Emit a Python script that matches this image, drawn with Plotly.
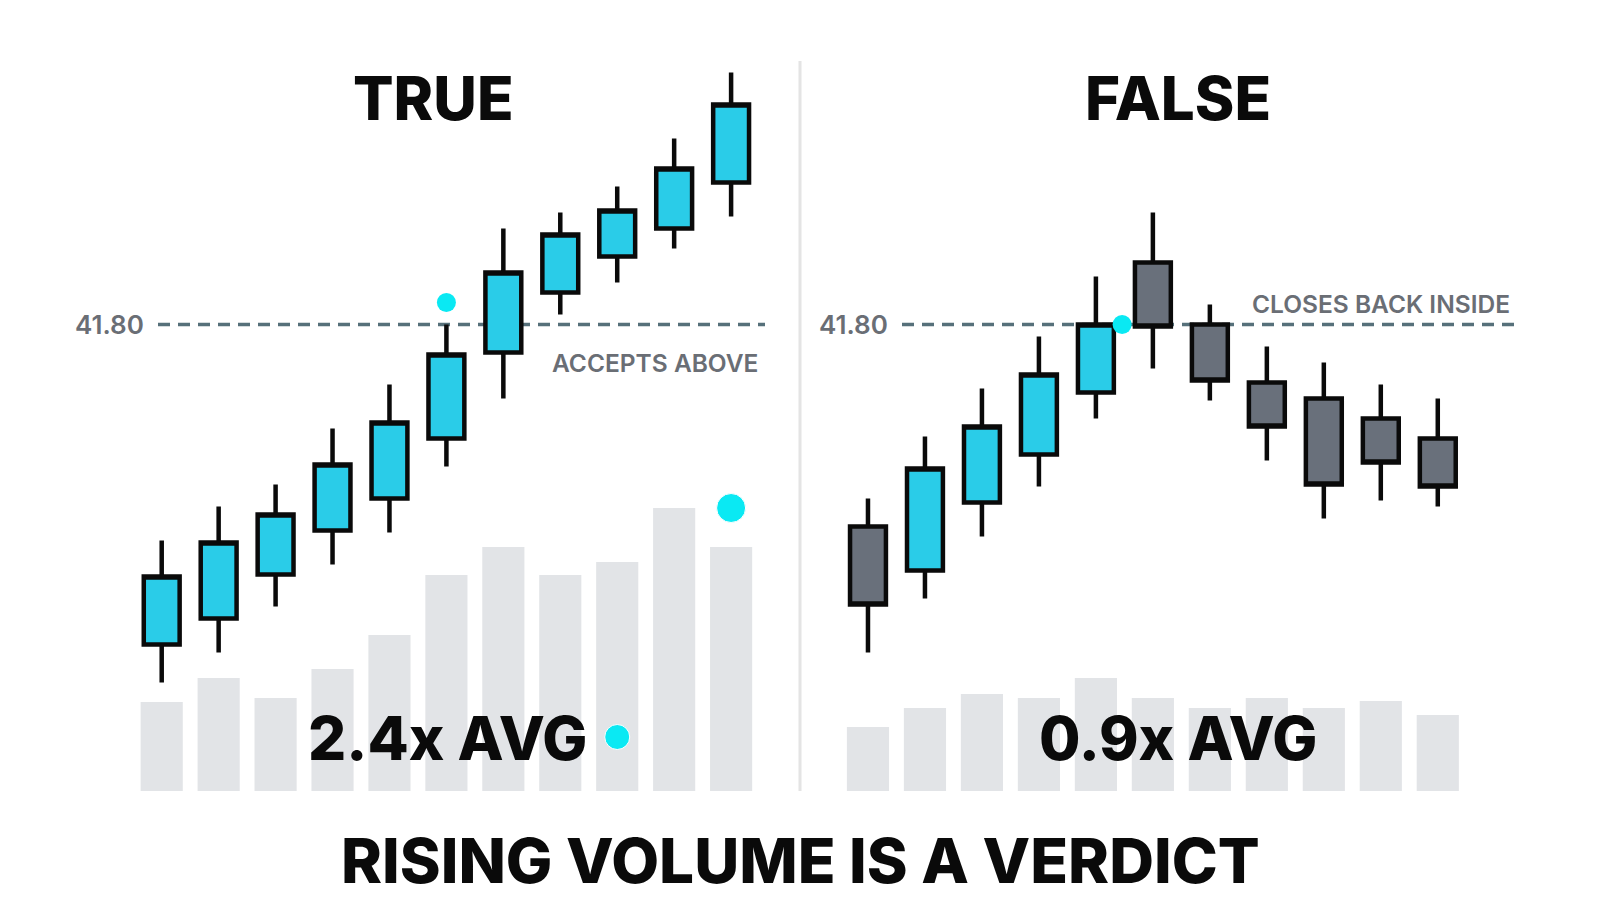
import plotly.graph_objects as go

# ---------------- data ----------------
candle_index = list(range(11))
true_open = [40.20, 40.33, 40.55, 40.77, 40.93, 41.23, 41.66, 41.96, 42.14, 42.28, 42.51]
true_high = [40.72, 40.89, 41.00, 41.28, 41.50, 41.80, 42.28, 42.36, 42.49, 42.73, 43.06]
true_low = [40.01, 40.16, 40.39, 40.60, 40.76, 41.09, 41.43, 41.85, 42.01, 42.18, 42.34]
true_close = [40.54, 40.71, 40.85, 41.10, 41.31, 41.65, 42.06, 42.25, 42.37, 42.58, 42.90]
true_volume = [0.89, 1.13, 0.93, 1.22, 1.56, 2.16, 2.44, 2.16, 2.29, 2.83, 2.44]

false_open = [40.79, 40.57, 40.91, 41.15, 41.46, 42.11, 41.80, 41.51, 41.43, 41.33, 41.23]
false_high = [40.93, 41.24, 41.48, 41.74, 42.04, 42.36, 41.90, 41.69, 41.61, 41.50, 41.43]
false_low = [40.16, 40.43, 40.74, 40.99, 41.33, 41.58, 41.42, 41.12, 40.83, 40.92, 40.89]
false_close = [40.40, 41.08, 41.29, 41.55, 41.80, 41.79, 41.52, 41.29, 41.00, 41.11, 40.99]
false_volume = [0.64, 0.83, 0.97, 0.93, 1.13, 0.93, 0.83, 0.93, 0.83, 0.90, 0.76]

level = 41.80
level_label = "41.80"
titles = ["TRUE", "FALSE"]
volume_labels = ["2.4x AVG", "0.9x AVG"]
notes = ["ACCEPTS ABOVE", "CLOSES BACK INSIDE"]
headline = "RISING VOLUME IS A VERDICT"

# highlight dots (x index, value)
true_break_dot = (5, 41.91)
true_peak_vol_dot = (10, 2.83)
true_label_dot = (8, 0.54)
false_break_dot = (4.46, 41.80)

# ---------------- style ----------------
CYAN = "#2accE8"
GRAY = "#69707b"
DOT = "#0ae9f3"
VOL = "#e2e4e7"
LINE = "#56707a"
TEXT_GRAY = "#6a6e75"
FONT = "Inter"

fig = go.Figure()

# volume bars (base axes)
fig.add_trace(go.Bar(x=candle_index, y=true_volume, width=0.74, marker=dict(color=VOL, line=dict(width=0)),
                     xaxis="x", yaxis="y", hoverinfo="skip"))
fig.add_trace(go.Bar(x=candle_index, y=false_volume, width=0.74, marker=dict(color=VOL, line=dict(width=0)),
                     xaxis="x2", yaxis="y3", hoverinfo="skip"))

# candles (overlay price axes)
def candle(o, h, l, c, xa, ya):
    return go.Candlestick(
        x=candle_index, open=o, high=h, low=l, close=c, xaxis=xa, yaxis=ya,
        increasing=dict(fillcolor=CYAN, line=dict(color="#0a0a0a", width=4.5)),
        decreasing=dict(fillcolor=GRAY, line=dict(color="#0a0a0a", width=4.5)),
        whiskerwidth=0, hoverinfo="skip")

fig.add_trace(candle(true_open, true_high, true_low, true_close, "x", "y2"))
fig.add_trace(candle(false_open, false_high, false_low, false_close, "x2", "y4"))

# dots
fig.add_trace(go.Scatter(x=[true_break_dot[0]], y=[true_break_dot[1]], mode="markers",
                         marker=dict(color=DOT, size=19, opacity=1), xaxis="x", yaxis="y2", hoverinfo="skip"))
fig.add_trace(go.Scatter(x=[false_break_dot[0]], y=[false_break_dot[1]], mode="markers",
                         marker=dict(color=DOT, size=19, opacity=1), xaxis="x2", yaxis="y4", hoverinfo="skip"))
fig.add_trace(go.Scatter(x=[true_peak_vol_dot[0], true_label_dot[0]], y=[true_peak_vol_dot[1], true_label_dot[1]],
                         mode="markers", marker=dict(color=DOT, size=[29, 25], opacity=1), xaxis="x", yaxis="y",
                         hoverinfo="skip"))

price_range = [38.8525, 43.4225]
vol_range = [-1.23, 7.91]
hidden = dict(visible=False, showgrid=False, zeroline=False, fixedrange=True)

fig.update_layout(
    width=1600, height=914,
    margin=dict(l=0, r=0, t=0, b=0),
    paper_bgcolor="white", plot_bgcolor="rgba(0,0,0,0)",
    showlegend=False, barmode="overlay", boxgap=0.37, boxgroupgap=0,
    xaxis=dict(domain=[0, 0.5], range=[-2.84, 11.21], rangeslider=dict(visible=False), **hidden),
    xaxis2=dict(domain=[0.5, 1], range=[-1.193, 12.847], rangeslider=dict(visible=False), anchor="y3", **hidden),
    yaxis=dict(domain=[0, 1], range=vol_range, anchor="x", **hidden),
    yaxis2=dict(domain=[0, 1], range=price_range, anchor="x", overlaying="y", **hidden),
    yaxis3=dict(domain=[0, 1], range=vol_range, anchor="x2", **hidden),
    yaxis4=dict(domain=[0, 1], range=price_range, anchor="x2", overlaying="y3", **hidden),
)

# divider and level lines
fig.add_shape(type="line", xref="paper", yref="paper", x0=0.5, x1=0.5, y0=1 - 61 / 914, y1=1 - 791 / 914,
              line=dict(color="#e4e4e4", width=3))
fig.add_shape(type="line", xref="paper", yref="y2", x0=158 / 1600, x1=765 / 1600, y0=level, y1=level,
              line=dict(color=LINE, width=3.5, dash="12px,8px"), layer="below")
fig.add_shape(type="line", xref="paper", yref="y4", x0=902 / 1600, x1=1522 / 1600, y0=level, y1=level,
              line=dict(color=LINE, width=3.5, dash="12px,8px"), layer="below")

def ann(text, x, y, size, weight, color="#0a0a0a", xanchor="center"):
    fig.add_annotation(text=text, x=x / 1600, y=1 - y / 914, xref="paper", yref="paper",
                       xanchor=xanchor, yanchor="middle", showarrow=False,
                       font=dict(family=FONT, size=size, color=color, weight=weight))

ann(titles[0], 433, 98, 60, 800)
ann(titles[1], 1178, 98, 60, 800)
ann(volume_labels[0], 447, 738, 60, 800)
ann(volume_labels[1], 1178, 738, 60, 800)
ann(headline, 800, 860, 62, 800)
ann(level_label, 146, 325, 26, 600, TEXT_GRAY, "right")
ann(level_label, 890, 325, 26, 600, TEXT_GRAY, "right")
ann(notes[0], 760, 363, 24.5, 600, TEXT_GRAY, "right")
ann(notes[1], 1512, 304, 24.5, 600, TEXT_GRAY, "right")

fig.write_html("out.html", config=dict(displayModeBar=False, staticPlot=True),
               post_script="document.body.style.margin='0';document.body.style.overflow='hidden';")
